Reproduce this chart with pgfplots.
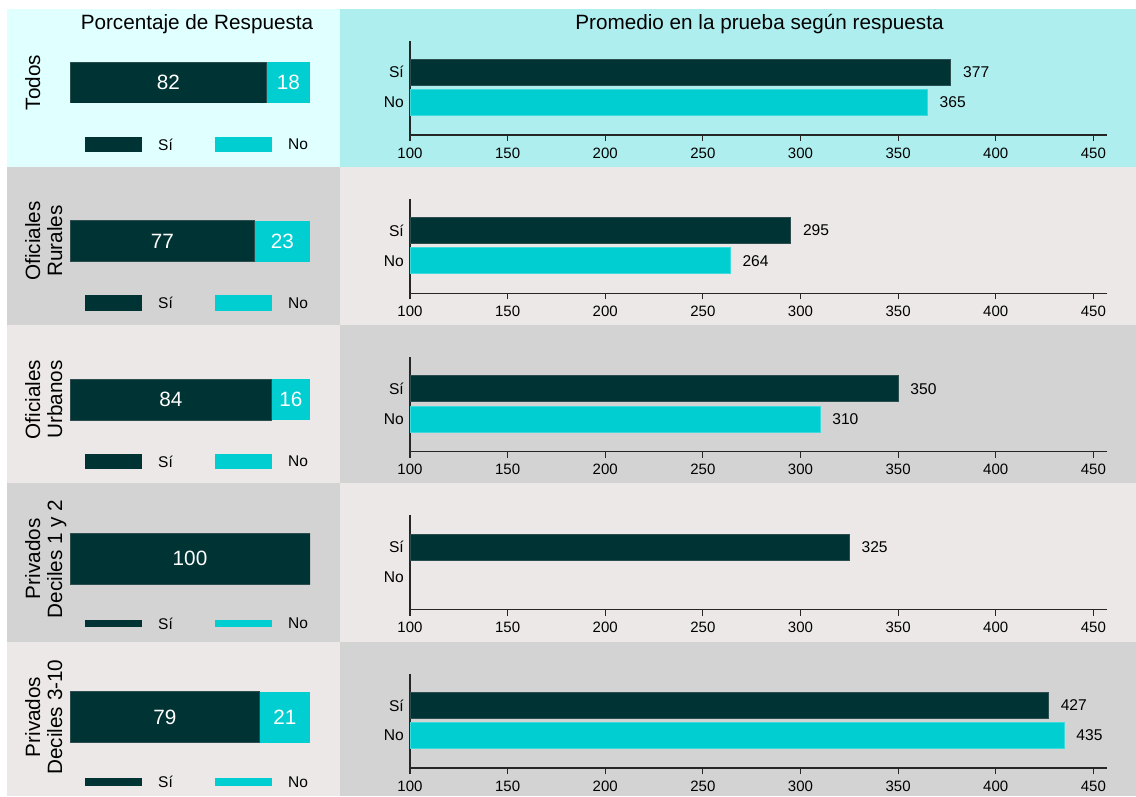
\documentclass[border=0pt]{standalone}
\usepackage{pgfplots}
\pgfplotsset{compat=1.18}
\usepackage{fontspec}
\setmainfont{Liberation Sans}

\definecolor{siC}{HTML}{003333}
\definecolor{noC}{HTML}{00CED1}
\definecolor{bgA}{HTML}{E0FFFF}
\definecolor{bgB}{HTML}{AFEEEE}
\definecolor{bgG}{HTML}{D3D3D3}
\definecolor{bgW}{HTML}{ECE8E7}
\definecolor{axC}{HTML}{262626}

\newcommand{\fs}[2]{\fontsize{#1bp}{#2bp}\selectfont}

\pgfplotsset{
  pctbars/.style={scale only axis, width=240bp, height=#1bp, hide axis,
    xmin=0, xmax=100, ymin=-0.5, ymax=0.5, anchor=west,
    xbar stacked, bar width=#1bp},
  pctlbls/.style={scale only axis, width=240bp, height=#1bp, hide axis,
    xmin=0, xmax=100, ymin=-0.5, ymax=0.5, anchor=west},
  score/.style={scale only axis, width=697bp, height=94.3bp,
    xmin=100, xmax=457, ymin=-1.08, ymax=2.05, anchor=south west,
    axis lines*=left, axis line style={axC, line width=1.2bp},
    xtick={100,150,...,450}, ytick={0,1}, yticklabels={No,Sí},
    tick align=outside, major tick length=6bp,
    xtick style={axC, line width=1.2bp}, ytick style={draw=none},
    /pgf/number format/assume math mode=true,
    xticklabel style={font=\fs{15}{17}, inner sep=0pt, yshift=-6.5bp},
    yticklabel style={font=\fs{15.6}{18}, inner sep=0pt},
    point meta=x,
    nodes near coords, nodes near coords align=horizontal,
    every node near coord/.append style={font=\fs{15.6}{18}, inner sep=0pt,
      anchor=west, xshift=12bp, text=black}},
  sibar/.style={xbar, bar shift=0pt, bar width=26bp, fill=siC, draw=siC!65!gray, line width=0.7bp},
  nobar/.style={xbar, bar shift=0pt, bar width=26bp, fill=noC, draw=noC!75!white, line width=0.7bp},
}

% percentage row: anchor name, bar height, Si, No, label points
\newcommand{\pctrow}[5]{%
  \begin{axis}[pctbars=#2, at={(#1)}]
    \addplot[fill=siC, draw=siC!65!gray, line width=0.7bp] coordinates {(#3,0)};
    \addplot[fill=noC, draw=none] coordinates {(#4,0)};
  \end{axis}
  \begin{axis}[pctlbls=#2, at={(#1)}]
    \addplot[draw=none, nodes near coords, point meta=explicit symbolic,
      every node near coord/.style={anchor=center, inner sep=0pt, text=white, font=\fs{20.7}{24}}]
      coordinates {#5};
  \end{axis}}

% legend of the left panels: y centre, key height
\newcommand{\legrow}[2]{%
  \fill[siC] (85,-#1+#2/2) rectangle (142,-#1-#2/2);
  \node[anchor=west, inner sep=0pt, font=\fs{15.5}{18}] at (158,-#1) {Sí};
  \fill[noC] (215,-#1+#2/2) rectangle (272,-#1-#2/2);
  \node[anchor=west, inner sep=0pt, font=\fs{15.5}{18}] at (288,-#1) {No};}

\begin{document}
\begin{tikzpicture}[x=1bp, y=1bp]
\useasboundingbox (0,0) rectangle (1136,-797);
\fill[white] (0,0) rectangle (1136,-797);

% panels
\fill[bgA] (7,-9) rectangle (340,-166.7);
\fill[bgB] (340,-9) rectangle (1136,-166.7);
\fill[bgG] (7,-166.7) rectangle (340,-325);
\fill[bgW] (340,-166.7) rectangle (1136,-325);
\fill[bgW] (7,-325) rectangle (340,-483.3);
\fill[bgG] (340,-325) rectangle (1136,-483.3);
\fill[bgG] (7,-483.3) rectangle (340,-641.7);
\fill[bgW] (340,-483.3) rectangle (1136,-641.7);
\fill[bgW] (7,-641.7) rectangle (340,-796);
\fill[bgG] (340,-641.7) rectangle (1136,-796);

% anchor points of the axes
\coordinate (p1) at (70,-82.5);
\coordinate (p2) at (70,-241);
\coordinate (p3) at (70,-399.5);
\coordinate (p4) at (70,-558.8);
\coordinate (p5) at (70,-717);
\coordinate (s1) at (410,-135);
\coordinate (s2) at (410,-293.25);
\coordinate (s3) at (410,-451.5);
\coordinate (s4) at (410,-609.75);
\coordinate (s5) at (410,-768);

% titles
\node[anchor=base, inner sep=0pt, font=\fs{20.7}{24}] at (197,-29.5) {Porcentaje de Respuesta};
\node[anchor=base, inner sep=0pt, font=\fs{20.7}{24}] at (759.5,-29.5) {Promedio en la prueba según respuesta};

% row labels
\node[rotate=90, anchor=north, align=center, inner sep=0pt, font=\fs{20.7}{22}] at (25,-82.5) {Todos};
\node[rotate=90, anchor=north, align=center, inner sep=0pt, font=\fs{20.7}{22}] at (25,-241) {Oficiales\\Rurales};
\node[rotate=90, anchor=north, align=center, inner sep=0pt, font=\fs{20.7}{22}] at (25,-399.5) {Oficiales\\Urbanos};
\node[rotate=90, anchor=north, align=center, inner sep=0pt, font=\fs{20.7}{22}] at (25,-558.8) {Privados\\Deciles 1 y 2};
\node[rotate=90, anchor=north, align=center, inner sep=0pt, font=\fs{20.7}{22}] at (25,-717) {Privados\\Deciles 3-10};

% percentage of answers
\pctrow{p1}{41}{82}{18}{(41,0) [82] (91,0) [18]}
\pctrow{p2}{41}{77}{23}{(38.5,0) [77] (88.5,0) [23]}
\pctrow{p3}{41}{84}{16}{(42,0) [84] (92,0) [16]}
\pctrow{p4}{51}{100}{0}{(50,0) [100]}
\pctrow{p5}{51}{79}{21}{(39.5,0) [79] (89.5,0) [21]}

\legrow{144.5}{15.5}
\legrow{303}{15.5}
\legrow{461.5}{15.5}
\legrow{623.5}{7.5}
\legrow{782}{7.5}

% mean score by answer
\begin{axis}[score, at={(s1)}]
  \addplot[sibar] coordinates {(377,1)};
  \addplot[nobar] coordinates {(365,0)};
\end{axis}
\begin{axis}[score, at={(s2)}]
  \addplot[sibar] coordinates {(295,1)};
  \addplot[nobar] coordinates {(264,0)};
\end{axis}
\begin{axis}[score, at={(s3)}]
  \addplot[sibar] coordinates {(350,1)};
  \addplot[nobar] coordinates {(310,0)};
\end{axis}
\begin{axis}[score, at={(s4)}]
  \addplot[sibar] coordinates {(325,1)};
\end{axis}
\begin{axis}[score, at={(s5)}]
  \addplot[sibar] coordinates {(427,1)};
  \addplot[nobar] coordinates {(435,0)};
\end{axis}
\end{tikzpicture}
\end{document}
